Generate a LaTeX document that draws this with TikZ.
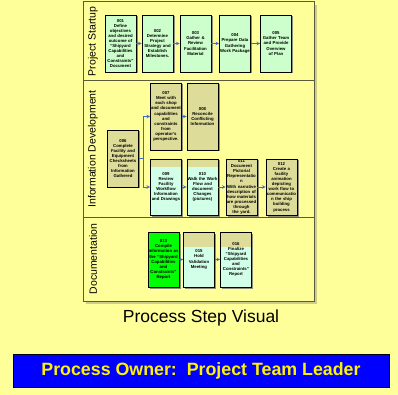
\documentclass[tikz,border=0pt]{standalone}
\usepackage{fontspec}
\setmainfont{Liberation Sans}
\usetikzlibrary{shadows}
\hyphenpenalty=10000
\exhyphenpenalty=10000
\definecolor{paper}{RGB}{255,255,153}
\definecolor{mint}{RGB}{204,255,204}
\definecolor{khaki}{RGB}{221,221,153}
\definecolor{aqua}{RGB}{210,255,232}
\definecolor{report}{RGB}{0,255,0}
\definecolor{laneline}{RGB}{90,90,60}
\definecolor{laneshade}{RGB}{205,205,140}
\definecolor{flowblue}{RGB}{60,110,200}
\tikzstyle{task}=[draw=black,line width=0.8pt,fill=mint,text width=30.5pt,align=center,inner sep=0.25pt,minimum width=31pt,font=\fontsize{4.3}{5.1}\selectfont\bfseries,drop shadow={shadow xshift=1.5pt,shadow yshift=-1.5pt,fill=black!55,opacity=0.8}]
\tikzstyle{tantask}=[task,fill=khaki]
\tikzstyle{lanetitle}=[rotate=90,font=\fontsize{10.5}{12}\selectfont]
\tikzstyle{flow}=[->,>=stealth,draw=flowblue,line width=0.6pt]
\tikzstyle{owner}=[draw=black,line width=0.8pt,fill=blue,text=yellow,minimum width=376pt,minimum height=33pt,font=\fontsize{17.8}{20}\selectfont\bfseries]
\tikzset{splittask/.style={tantask,path picture={\fill[aqua] ([yshift=-#1]path picture bounding box.north west) rectangle (path picture bounding box.south east);}}}

\begin{document}
\begin{tikzpicture}[x=1pt,y=-1pt]
                    \useasboundingbox (0,0) rectangle (398,395);
                    \fill [paper] (0,0) rectangle (398,395);

                    \fill [laneshade] (86,5) rectangle (317,304);
                    \fill [paper] (83,2) rectangle (314,301);
                    \draw [laneline,line width=1pt] (83,2) rectangle (314,301);
                    \draw [laneline,line width=1pt] (83,81) -- (314,81);
                    \draw [laneline,line width=1pt] (83,217) -- (314,217);

                    \node (l1) at (93,41.5) [lanetitle] {Project Startup};
                    \node (l2) at (93,149) [lanetitle] {Information Development};
                    \node (l3) at (93,259) [lanetitle] {Documentation};

                    \node (s1) at (120.5,43.5) [task,minimum height=57pt] {001\\Define objectives and desired outcome of ``Shipyard Capabilities and Constraints'' Document};
                    \node (s2) at (157.5,43.5) [task,minimum height=57pt] {002\\Determine Project Strategy and Establish Milestones.};
                    \node (s3) at (195.5,43.5) [task,minimum height=57pt] {003\\Gather \& Review Facilitation Material};
                    \node (s4) at (235,43.5) [task,minimum height=57pt] {004\\Prepare Data Gathering Work Package};
                    \node (s5) at (276,43.5) [task,minimum height=57pt] {005\\Gather Team and Provide Overview of Plan};

                    \node (s6) at (123,158.5) [tantask,minimum height=57pt] {006\\Complete Facility and Equipment Checksheets from Information Gathered};
                    \node (s7) at (166,116.5) [tantask,minimum height=67pt] {007\\Meet with each shop and document capabilities and constraints from operator's perspective.};
                    \node (s8) at (202.5,116.5) [tantask,minimum height=67pt] {008\\Reconcile Conflicting Information};
                    \node (s9) at (166,187) [splittask=8pt,minimum height=56pt] {009\\Review Facility Workflow Information and Drawings};
                    \node (s10) at (202.5,187) [splittask=8pt,minimum height=56pt] {010\\Walk the Work Flow and document Changes (pictures)};
                    \node (s11) at (241.5,187) [tantask,minimum height=56pt] {011\\Document Pictorial Representatio\\n\\With narrative description of how materials are processed through the yard.};
                    \node (s12) at (281.5,187) [tantask,minimum height=56pt] {012\\Create a facility animation depicting work flow to communicatio\\n the ship building process};

                    \node (s13) at (163.5,259.5) [task,fill=report,minimum height=55pt] {013\\Compile Information as the ``Shipyard Capabilities and Constraints'' Report};
                    \node (s15) at (199,259.5) [splittask=15pt,minimum height=55pt] {015\\Hold Validation Meeting};
                    \node (s16) at (236,259.5) [splittask=15pt,minimum height=55pt] {016\\Finalize ``Shipyard Capabilities and Constraints'' Report};

                    \draw [flow] (s1) -- (s2);
                    \draw [flow] (s2) -- (s3);
                    \draw [flow] (s3) -- (s4);
                    \draw [flow] (s4) -- (s5);

                    \draw [flow] (s6.east) -- ++(4,0) |- (s7.west);
                    \draw [flow] (s6.east) -- ++(4,0) |- (s9.west);
                    \draw [flow] (s7) -- (s8);
                    \draw [flow] (s9) -- (s10);
                    \draw [flow] (s10) -- (s11);
                    \draw [flow] (s11) -- (s12);

                    \draw [flow] (s13) -- (s15);
                    \draw [flow] (s15) -- (s16);

                    \node (title) at (201,318) [font=\fontsize{17.5}{20}\selectfont] {Process Step Visual};
                    \node (lead) at (201,370.5) [owner] {Process Owner:\ \ Project Team Leader};
                \end{tikzpicture}
\end{document}
